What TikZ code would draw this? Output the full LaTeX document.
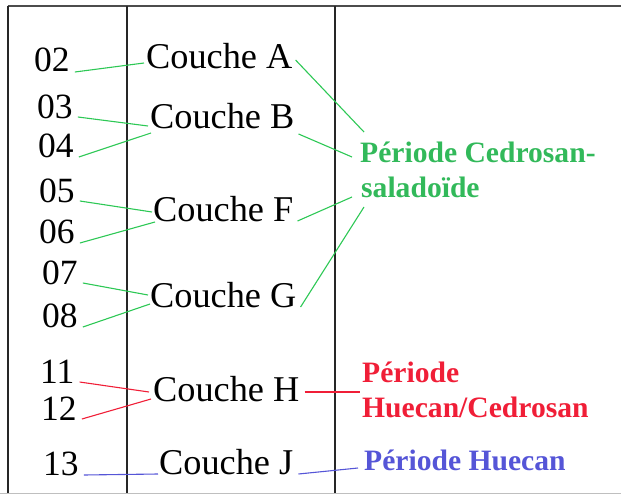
\documentclass[tikz,border=0pt]{standalone}
\usepackage{fontspec}
\setmainfont{Liberation Serif}
\usetikzlibrary{calc}
\definecolor{gtext}{RGB}{50,185,90}
\definecolor{gline}{RGB}{45,200,85}
\definecolor{rtext}{RGB}{240,30,55}
\definecolor{btext}{RGB}{85,85,215}
\tikzset{
  num/.style={anchor=base west,inner sep=0pt,font=\fontsize{35.5}{40}\selectfont},
  couche/.style={anchor=base west,inner sep=0pt,font=\fontsize{36.3}{40}\selectfont},
  lab/.style={anchor=base west,inner sep=0pt,font=\fontsize{29.6}{35}\selectfont\bfseries},
  frame/.style={line width=1.4pt,black!85},
  gconn/.style={gline,line width=1.1pt},
  rconn/.style={rtext,line width=1.1pt},
  bconn/.style={btext,line width=1.1pt}
}
\begin{document}
\begin{tikzpicture}[x=1pt,y=-1pt]
\useasboundingbox (0,0) rectangle (621,495);
% frame
\draw[line width=2pt,black!70] (7.5,6) -- (621,6);
\draw[line width=1pt,black!25] (0,493) -- (621,493);
\draw[frame] (8,6) -- (8,493);
\draw[frame] (127,6) -- (127,493);
\draw[frame] (335,6) -- (335,493);
% numbers
\node[num] (n02) at (34,72) {02};
\node[num] (n03) at (37,118) {03};
\node[num] (n04) at (38,157) {04};
\node[num] (n05) at (39,202) {05};
\node[num] (n06) at (39,243) {06};
\node[num] (n07) at (42,284) {07};
\node[num] (n08) at (42,327) {08};
\node[num] (n11) at (40,383) {11};
\node[num] (n12) at (41,420) {12};
\node[num] (n13) at (43,475) {13};
% couches
\node[couche] (ca) at (146,68) {Couche A};
\node[couche] (cb) at (150,128) {Couche B};
\node[couche] (cf) at (153,221) {Couche F};
\node[couche] (cg) at (150,307) {Couche G};
\node[couche] (ch) at (153,401) {Couche H};
\node[couche] (cj) at (159,474) {Couche J};
% periods
\node[lab,text=gtext] (pc1) at (360,162) {Période Cedrosan-};
\node[lab,text=gtext] (pc2) at (361,197) {saladoïde};
\node[lab,text=rtext] (ph1) at (362,382) {Période};
\node[lab,text=rtext] (ph2) at (362,417) {Huecan/Cedrosan};
\node[lab,text=btext] (pj) at (364,470) {Période Huecan};
% number connectors
\draw[gconn] ($(n02.base east)+(5,0)$) -- ($(ca.base west)+(-2,-5)$);
\draw[gconn] ($(n03.base east)+(5,-1)$) -- ($(cb.base west)+(-2,-2)$);
\draw[gconn] ($(n04.base east)+(5,0)$) -- ($(cb.base west)+(1,5)$);
\draw[gconn] ($(n05.base east)+(5,-1)$) -- ($(cf.base west)+(-1,-9)$);
\draw[gconn] ($(n06.base east)+(5,0)$) -- ($(cf.base west)+(2,1)$);
\draw[gconn] ($(n07.base east)+(5,-1)$) -- ($(cg.base west)+(-2,-12)$);
\draw[gconn] ($(n08.base east)+(5,0)$) -- ($(cg.base west)+(0,-3)$);
\draw[rconn] ($(n11.base east)+(5,-1)$) -- ($(ch.base west)+(-4,-9)$);
\draw[rconn] ($(n12.base east)+(5,-1)$) -- ($(ch.base west)+(-2,-2)$);
\draw[bconn] ($(n13.base east)+(5,0)$) -- ($(cj.base west)+(-1,0)$);
% period connectors
\draw[gconn] ($(ca.base east)+(3,-8)$) -- ($(pc1.base west)+(4,-30)$);
\draw[gconn] ($(cb.base east)+(4,6)$) -- ($(pc1.base west)+(-8,-5)$);
\draw[gconn] ($(cf.base east)+(4,0)$) -- ($(pc2.base west)+(-9,0)$);
\draw[gconn] ($(cg.base east)+(4,0)$) -- ($(pc2.base west)+(3,10)$);
\draw[rconn] ($(ch.base east)+(5,-9)$) -- ($(ph1.base west)+(-2,10)$);
\draw[bconn] ($(cj.base east)+(5,0)$) -- ($(pj.base west)+(-6,-2)$);
\end{tikzpicture}
\end{document}
